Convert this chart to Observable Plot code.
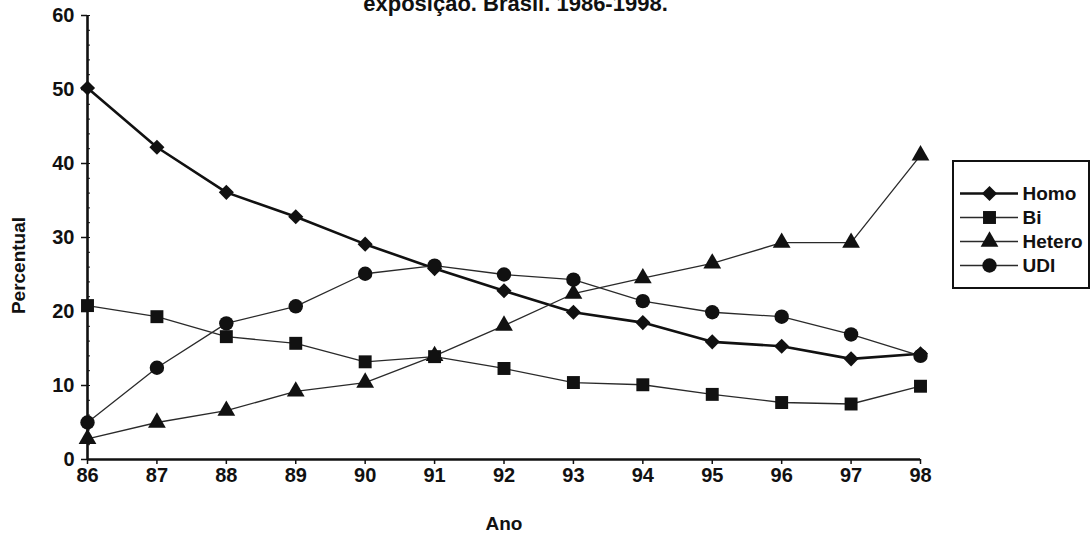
<!DOCTYPE html>
<html>
<head>
<meta charset="utf-8">
<script src="https://cdn.jsdelivr.net/npm/d3@7"></script>
<script src="https://cdn.jsdelivr.net/npm/@observablehq/plot@0.6"></script>
<style>
  html, body { margin: 0; padding: 0; background: #fff; overflow: hidden; }
  #wrap { position: relative; width: 1091px; height: 544px; }
  #title { position: absolute; top: -8px; left: 0; width: 1031px; text-align: center;
           font: bold 22px "Liberation Sans", Arial, sans-serif; color: #111; line-height: 24px; }
  #legend { position: absolute; left: 952px; top: 160px; border: 2px solid #111; background: #fff; line-height: 0; }
</style>
</head>
<body>
<div id="wrap">
  <div id="chart"></div>
  <div id="title">exposição. Brasil. 1986-1998.</div>
  <div id="legend"></div>
</div>
<script>
const years = [86, 87, 88, 89, 90, 91, 92, 93, 94, 95, 96, 97, 98];
const seriesNames = ["Homo", "Bi", "Hetero", "UDI"];
const homo   = [50.2, 42.2, 36.1, 32.8, 29.1, 25.8, 22.8, 19.9, 18.5, 15.9, 15.3, 13.6, 14.3];
const bi     = [20.8, 19.3, 16.6, 15.7, 13.2, 13.9, 12.3, 10.4, 10.1, 8.8, 7.7, 7.5, 9.9];
const hetero = [2.8, 5.0, 6.6, 9.2, 10.4, 14.0, 18.1, 22.4, 24.5, 26.5, 29.3, 29.3, 41.1];
const udi    = [5.0, 12.4, 18.4, 20.7, 25.1, 26.2, 25.0, 24.3, 21.4, 19.9, 19.3, 16.9, 14.0];
const yTicks = [0, 10, 20, 30, 40, 50, 60];
const yMinor = d3.range(0, 61, 2);
const xLabel = "Ano";
const yLabel = "Percentual";

const values = {Homo: homo, Bi: bi, Hetero: hetero, UDI: udi};
const symbols = {Homo: "diamond2", Bi: "square", Hetero: "triangle", UDI: "circle"};
const radius = {Homo: 6.8, Bi: 7.3, Hetero: 6.6, UDI: 7.2};
const widths = {Homo: 2.6, Bi: 1.3, Hetero: 1.3, UDI: 1.3};
const colors = {Homo: "#111", Bi: "#2a2a2a", Hetero: "#2a2a2a", UDI: "#2a2a2a"};

const tables = Object.fromEntries(seriesNames.map(s => [s, years.map((yr, i) => ({year: yr, value: values[s][i]}))]));

const font = '"Liberation Sans", Arial, sans-serif';

const chart = Plot.plot({
  width: 1091,
  height: 544,
  marginLeft: 87,
  marginRight: 171,
  marginTop: 15,
  marginBottom: 85,
  x: {domain: [86, 98]},
  y: {domain: [0, 60]},
  style: {fontFamily: font, fontWeight: "bold", fontSize: "20px", color: "#111", background: "transparent"},
  marks: [
    Plot.axisY({ticks: yMinor, tickSize: -3, tickFormat: () => "", label: null, strokeWidth: 1}),
    Plot.axisY({ticks: yTicks, tickSize: 6, tickPadding: 7, label: null, fontSize: 20, fontWeight: "bold", strokeWidth: 1.5}),
    Plot.axisX({ticks: years, tickSize: 5, tickPadding: 3, tickFormat: d => String(d), label: null, fontSize: 20, fontWeight: "bold", strokeWidth: 1.5}),
    Plot.ruleY([0], {stroke: "#111", strokeWidth: 2.6}),
    Plot.ruleX([86], {stroke: "#111", strokeWidth: 2.6}),
    ...seriesNames.map(s => Plot.line(tables[s], {x: "year", y: "value", stroke: colors[s], strokeWidth: widths[s]})),
    ...seriesNames.map(s => Plot.dot(tables[s], {x: "year", y: "value", symbol: () => symbols[s], r: radius[s], fill: "#111", stroke: "none"})),
    Plot.text([yLabel], {frameAnchor: "left", textAnchor: "middle", dx: -69, dy: 28, rotate: -90, fontSize: 19, fontWeight: "bold", fill: "#111"}),
    Plot.text([xLabel], {frameAnchor: "bottom", dy: 70, fontSize: 19, fontWeight: "bold", fill: "#111"})
  ]
});
document.getElementById("chart").append(chart);

const legendRows = seriesNames.map(s => ({name: s}));
const legend = Plot.plot({
  width: 134,
  height: 125,
  margin: 0,
  x: {domain: [0, 134], range: [0, 134], axis: null},
  y: {type: "point", domain: seriesNames, range: [18, 116], axis: null},
  style: {fontFamily: font, fontWeight: "bold", fontSize: "19px", color: "#111", background: "#fff"},
  marks: [
    ...seriesNames.map(s => Plot.ruleY([s], {x1: 6, x2: 64, stroke: colors[s], strokeWidth: widths[s]})),
    ...seriesNames.map(s => Plot.dot([s], {y: d => d, x: 35, symbol: () => symbols[s], r: radius[s], fill: "#111", stroke: "none"})),
    Plot.text(legendRows, {y: "name", x: 68, text: "name", textAnchor: "start", fontSize: 19, fontWeight: "bold", fill: "#111"})
  ]
});
document.getElementById("legend").append(legend);
</script>
</body>
</html>
